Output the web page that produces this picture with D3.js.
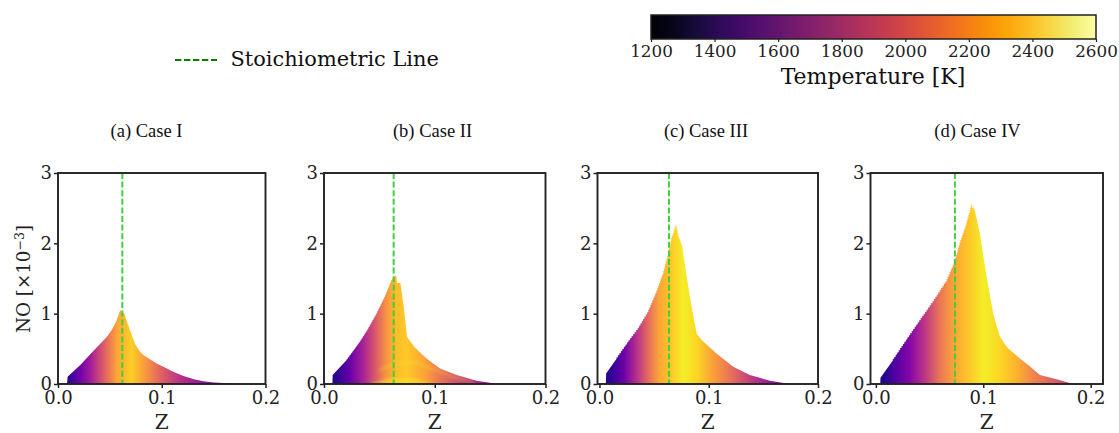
<!DOCTYPE html>
<html>
<head>
<meta charset="utf-8">
<script src="https://cdn.jsdelivr.net/npm/d3@7"></script>
<style>
  html, body { margin: 0; padding: 0; background: #fff; overflow: hidden; }
</style>
</head>
<body>
<script>
// values
var caseNames = ["(a) Case I", "(b) Case II", "(c) Case III", "(d) Case IV"];
var stoichZ = [0.062, 0.0629, 0.0636, 0.0736];

var caseIZ = [0.0087, 0.0093, 0.0215, 0.034, 0.047, 0.052, 0.056, 0.060, 0.064, 0.068, 0.0745, 0.0785, 0.0825, 0.095, 0.103, 0.111, 0.121, 0.131, 0.140, 0.150, 0.176];
var caseINO = [0, 0.104, 0.27, 0.47, 0.67, 0.77, 0.89, 1.05, 1.0, 0.82, 0.56, 0.47, 0.41, 0.29, 0.235, 0.175, 0.115, 0.066, 0.04, 0.02, 0];
var caseIIZ = [0.0076, 0.0078, 0.0205, 0.0325, 0.039, 0.0475, 0.055, 0.061, 0.065, 0.066, 0.069, 0.072, 0.075, 0.082, 0.0926, 0.1047, 0.1197, 0.1377, 0.1528, 0.1618];
var caseIINO = [0, 0.128, 0.34, 0.60, 0.76, 1.0, 1.24, 1.475, 1.546, 1.437, 1.437, 1.097, 0.67, 0.52, 0.364, 0.222, 0.128, 0.047, 0.01, 0];
var caseIIIZ = [0.0058, 0.0061, 0.0158, 0.0265, 0.0356, 0.0447, 0.0524, 0.0584, 0.0636, 0.066, 0.07, 0.0721, 0.0758, 0.0798, 0.0843, 0.0889, 0.0935, 0.1071, 0.1224, 0.1376, 0.1559, 0.1741];
var caseIIINO = [0, 0.151, 0.364, 0.60, 0.79, 1.026, 1.31, 1.57, 1.877, 2.066, 2.255, 2.113, 1.957, 1.522, 1.097, 0.719, 0.624, 0.435, 0.246, 0.128, 0.047, 0];
var caseIVZ = [0.0041, 0.0043, 0.0161, 0.0286, 0.041, 0.0534, 0.0658, 0.0736, 0.0783, 0.0845, 0.0891, 0.0922, 0.0969, 0.1031, 0.1093, 0.1125, 0.1155, 0.1195, 0.1233, 0.1342, 0.1435, 0.1528, 0.1683, 0.1839];
var caseIVNO = [0, 0.09, 0.34, 0.624, 0.90, 1.17, 1.46, 1.735, 1.995, 2.28, 2.53, 2.468, 2.137, 1.522, 1.0, 0.82, 0.68, 0.58, 0.506, 0.364, 0.25, 0.128, 0.066, 0];

// temperature against Z, one list per case
var tempZI = [0.009, 0.012, 0.0215, 0.031, 0.041, 0.05, 0.057, 0.071, 0.0825, 0.0985, 0.118, 0.137, 0.163];
var tempI = [1240, 1310, 1510, 1690, 1930, 2150, 2320, 2460, 2290, 2040, 1800, 1660, 1480];
var tempZII = [0.0114, 0.0235, 0.0355, 0.0475, 0.0565, 0.0655, 0.0746, 0.0896, 0.1047, 0.1257, 0.1468];
var tempII = [1270, 1480, 1730, 2020, 2250, 2400, 2440, 2320, 2120, 1870, 1660];
var tempZIII = [0.0097, 0.022, 0.034, 0.0447, 0.055, 0.0645, 0.0767, 0.0889, 0.104, 0.122, 0.1437, 0.168];
var tempIII = [1270, 1480, 1790, 2070, 2320, 2430, 2560, 2490, 2290, 2070, 1790, 1550];
var tempZIV = [0.0068, 0.0193, 0.0317, 0.044, 0.0596, 0.0736, 0.086, 0.1, 0.1155, 0.131, 0.1435, 0.159, 0.18];
var tempIV = [1240, 1410, 1580, 1790, 2120, 2320, 2430, 2560, 2490, 2360, 2210, 2070, 1900];

// brighter streaks inside Case II
var streakLowZ = [0.04, 0.052, 0.062, 0.072, 0.085, 0.10];
var streakLowNO = [0, 0.05, 0.085, 0.09, 0.06, 0];
var streakMidZ = [0.05, 0.065, 0.08, 0.095, 0.115, 0.135];
var streakMidNO = [0.22, 0.31, 0.33, 0.26, 0.14, 0.05];

var noTicks = [0, 1, 2, 3];
var zTicks = [0, 0.1, 0.2];
var tempTicks = [1200, 1400, 1600, 1800, 2000, 2200, 2400, 2600];

var cases = [
  {z: caseIZ, no: caseINO, tz: tempZI, t: tempI, fringe: 0},
  {z: caseIIZ, no: caseIINO, tz: tempZII, t: tempII, fringe: 0.7},
  {z: caseIIIZ, no: caseIIINO, tz: tempZIII, t: tempIII, fringe: 1.2},
  {z: caseIVZ, no: caseIVNO, tz: tempZIV, t: tempIV, fringe: 1.4}
];

// panel frames in pixels and the Z range each one shows
var frameLeft = [58, 324, 597.5, 870.5];
var frameRight = [265.5, 545.5, 818, 1103];
var zMin = [0, 0, -0.0018, -0.005];
var zMax = [0.2, 0.2, 0.2, 0.2115];
var titleX = [146.5, 432.5, 706, 977.5];
var frameTop = 173, frameBottom = 384;

var serif = "'DejaVu Serif', serif";
var ink = "#222";

var svg = d3.select("body").append("svg")
    .attr("width", 1119)
    .attr("height", 433)
    .style("display", "block");
var defs = svg.append("defs");

defs.append("filter").attr("id", "soft")
    .attr("x", "-20%").attr("y", "-50%").attr("width", "140%").attr("height", "200%")
    .append("feGaussianBlur").attr("stdDeviation", 1.6);

var patchColor = d3.scaleSequential(d3.interpolatePlasma).domain([1200, 2600]);
var barColor = d3.scaleSequential(d3.interpolateInferno).domain([1200, 2600]);

var y = d3.scaleLinear().domain([0, 3]).range([frameBottom, frameTop]);

cases.forEach(function(c, i) {
    var x = d3.scaleLinear()
        .domain([zMin[i], zMax[i]])
        .range([frameLeft[i], frameRight[i]]);

    var gradId = "patch" + i;
    var zFirst = c.tz[0], zLast = c.tz[c.tz.length - 1];
    var grad = defs.append("linearGradient")
        .attr("id", gradId)
        .attr("gradientUnits", "userSpaceOnUse")
        .attr("x1", x(zFirst)).attr("x2", x(zLast))
        .attr("y1", 0).attr("y2", 0);
    c.tz.forEach(function(z, k) {
        grad.append("stop")
            .attr("offset", (z - zFirst) / (zLast - zFirst))
            .attr("stop-color", patchColor(c.t[k]));
    });

    var points = d3.zip(c.z, c.no);

    var area = d3.area()
        .x(function(d) { return x(d[0]); })
        .y0(y(0))
        .y1(function(d) { return y(d[1]); });

    svg.append("path")
        .datum(points)
        .attr("d", area)
        .attr("fill", "url(#" + gradId + ")");

    // scattered points along the rim, rising side only
    if (c.fringe > 0) {
        var peak = d3.maxIndex(c.no);
        var rim = d3.line()
            .x(function(d) { return x(d[0]); })
            .y(function(d) { return y(d[1]); });
        svg.append("path")
            .datum(points.slice(2, peak + 2))
            .attr("d", rim)
            .attr("fill", "none")
            .attr("stroke", "url(#" + gradId + ")")
            .attr("stroke-width", c.fringe)
            .attr("stroke-dasharray", "1,1.6");
    }

    if (i == 1) {
        [[streakLowZ, streakLowNO, 0.55], [streakMidZ, streakMidNO, 0.28]].forEach(function(s) {
            var streak = d3.area()
                .curve(d3.curveMonotoneX)
                .x(function(d) { return x(d[0]); })
                .y0(function(d) { return y(d[1] - 0.05); })
                .y1(function(d) { return y(d[1]); });
            svg.append("path")
                .datum(d3.zip(s[0], s[1]))
                .attr("d", s[0] === streakLowZ ? streak.y0(y(0)) : streak)
                .attr("fill", "#f5e626")
                .attr("opacity", s[2])
                .attr("filter", "url(#soft)");
        });
    }

    svg.append("line")
        .attr("x1", x(stoichZ[i])).attr("x2", x(stoichZ[i]))
        .attr("y1", y(3)).attr("y2", y(0))
        .attr("stroke", "#3fcf3f")
        .attr("stroke-width", 2)
        .attr("stroke-dasharray", "6,2.6");

    svg.append("rect")
        .attr("x", frameLeft[i]).attr("y", frameTop)
        .attr("width", frameRight[i] - frameLeft[i])
        .attr("height", frameBottom - frameTop)
        .attr("fill", "none")
        .attr("stroke", ink)
        .attr("stroke-width", 1.9);

    var xAxis = svg.append("g")
        .attr("transform", "translate(0," + frameBottom + ")")
        .call(d3.axisBottom(x).tickValues(zTicks).tickFormat(d3.format(".1f")).tickSize(4).tickPadding(3));
    var yAxis = svg.append("g")
        .attr("transform", "translate(" + frameLeft[i] + ",0)")
        .call(d3.axisLeft(y).tickValues(noTicks).tickFormat(d3.format("d")).tickSize(4).tickPadding(2));

    [xAxis, yAxis].forEach(function(a) {
        a.select(".domain").remove();
        a.selectAll(".tick line").attr("stroke", ink).attr("stroke-width", 1.5);
        a.selectAll("text")
            .attr("fill", ink)
            .attr("font-family", serif)
            .attr("font-size", 18);
    });

    svg.append("text")
        .attr("x", (frameLeft[i] + frameRight[i]) / 2)
        .attr("y", 429)
        .attr("text-anchor", "middle")
        .attr("fill", ink)
        .attr("font-family", serif)
        .attr("font-size", 20)
        .text("Z");

    svg.append("text")
        .attr("x", titleX[i])
        .attr("y", 137)
        .attr("text-anchor", "middle")
        .attr("fill", "#111")
        .attr("font-family", "'Liberation Serif', serif")
        .attr("font-size", 18.5)
        .text(caseNames[i]);
});

// y label only on the first panel
var yLabel = svg.append("text")
    .attr("transform", "translate(30,279)rotate(-90)")
    .attr("text-anchor", "middle")
    .attr("fill", ink)
    .attr("font-family", serif)
    .attr("font-size", 18.3);
yLabel.append("tspan").text("NO [\u00d710");
yLabel.append("tspan").attr("dy", -6).attr("font-size", 12.5).text("\u22123");
yLabel.append("tspan").attr("dy", 6).text("]");

// colorbar
var barLeft = 651, barRight = 1096, barTop = 15, barBottom = 39;
var barX = d3.scaleLinear().domain([1200, 2600]).range([barLeft, barRight]);
var barGrad = defs.append("linearGradient")
    .attr("id", "bar")
    .attr("gradientUnits", "userSpaceOnUse")
    .attr("x1", barLeft).attr("x2", barRight)
    .attr("y1", 0).attr("y2", 0);
d3.range(0, 1.001, 0.05).forEach(function(f) {
    barGrad.append("stop")
        .attr("offset", f)
        .attr("stop-color", barColor(barX.invert(barLeft + f * (barRight - barLeft))));
});
svg.append("rect")
    .attr("x", barLeft).attr("y", barTop)
    .attr("width", barRight - barLeft).attr("height", barBottom - barTop)
    .attr("fill", "url(#bar)")
    .attr("stroke", ink)
    .attr("stroke-width", 1.5);
var barAxis = svg.append("g")
    .attr("transform", "translate(0," + barBottom + ")")
    .call(d3.axisBottom(barX).tickValues(tempTicks).tickFormat(d3.format("d")).tickSize(3).tickPadding(3));
barAxis.select(".domain").remove();
barAxis.selectAll(".tick line").attr("stroke", ink).attr("stroke-width", 1.2);
barAxis.selectAll("text")
    .attr("fill", ink)
    .attr("font-family", serif)
    .attr("font-size", 16.8);
svg.append("text")
    .attr("x", 873).attr("y", 84)
    .attr("text-anchor", "middle")
    .attr("fill", "#111")
    .attr("font-family", serif)
    .attr("font-size", 22)
    .text("Temperature [K]");

// legend
svg.append("line")
    .attr("x1", 175).attr("x2", 217)
    .attr("y1", 60).attr("y2", 60)
    .attr("stroke", "#008000")
    .attr("stroke-width", 2)
    .attr("stroke-dasharray", "6.3,2.7");
svg.append("text")
    .attr("x", 230.5).attr("y", 66)
    .attr("fill", "#111")
    .attr("font-family", serif)
    .attr("font-size", 20.9)
    .text("Stoichiometric Line");
</script>
</body>
</html>
